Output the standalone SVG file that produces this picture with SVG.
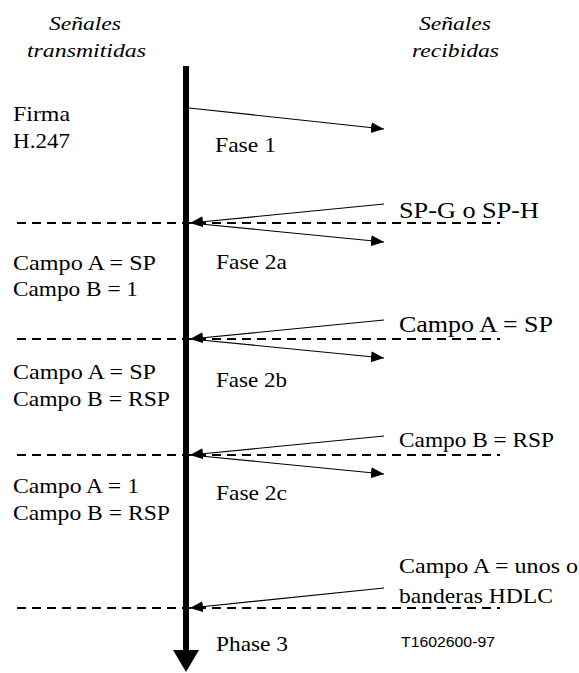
<svg xmlns="http://www.w3.org/2000/svg" width="579" height="673" viewBox="0 0 579 673">
<style>
  .t { font-size: 21px; fill: #000; }
  .hdr { font-style: italic; font-size: 19px; }
  .big { font-size: 23px; }
  .ref { font-size: 14px; }
  .sig { stroke: #000; stroke-width: 1.2; fill: none; marker-end: url(#ah); }
  .sep { stroke: #000; stroke-width: 2; stroke-dasharray: 9 6; fill: none; }
</style>
<defs>
  <marker id="ah" markerUnits="userSpaceOnUse" markerWidth="14" markerHeight="12" refX="13" refY="5.5" orient="auto">
    <path d="M0,0 L13,5.5 L0,11 Z" fill="#000"/>
  </marker>
</defs>
<rect width="579" height="673" fill="#fff"/>

<g id="timeline">
  <line x1="186" y1="66" x2="186" y2="652" stroke="#000" stroke-width="6"/>
  <polygon points="173,650 199,650 186,672" fill="#000"/>
</g>

<g id="separators">
  <line class="sep" x1="17" y1="223" x2="500" y2="223"/>
  <line class="sep" x1="17" y1="339" x2="500" y2="339"/>
  <line class="sep" x1="17" y1="455" x2="500" y2="455"/>
  <line class="sep" x1="17" y1="608" x2="500" y2="608"/>
</g>

<g id="connectors">
  <line class="sig" x1="189" y1="108" x2="384" y2="129"/>
  <line class="sig" x1="384" y1="204" x2="190" y2="223"/>
  <line class="sig" x1="190" y1="223" x2="384" y2="242"/>
  <line class="sig" x1="384" y1="320" x2="190" y2="339"/>
  <line class="sig" x1="190" y1="339" x2="384" y2="358"/>
  <line class="sig" x1="384" y1="436" x2="190" y2="455"/>
  <line class="sig" x1="190" y1="455" x2="384" y2="474"/>
  <line class="sig" x1="384" y1="588" x2="190" y2="608"/>
</g>

<g font-family="Liberation Serif, Times New Roman, DejaVu Serif, serif">
<g id="headers">
  <text class="t hdr" x="49" y="30" textLength="72" lengthAdjust="spacingAndGlyphs">Señales</text>
  <text class="t hdr" x="27" y="57" textLength="119" lengthAdjust="spacingAndGlyphs">transmitidas</text>
  <text class="t hdr" x="419" y="30" textLength="72" lengthAdjust="spacingAndGlyphs">Señales</text>
  <text class="t hdr" x="412" y="57" textLength="87" lengthAdjust="spacingAndGlyphs">recibidas</text>
</g>

<g id="phase1">
  <text class="t" x="13" y="121" textLength="57" lengthAdjust="spacingAndGlyphs">Firma</text>
  <text class="t" x="13" y="148" textLength="57" lengthAdjust="spacingAndGlyphs">H.247</text>
  <text class="t" x="215" y="152" textLength="61" lengthAdjust="spacingAndGlyphs">Fase 1</text>
  <text class="t big" x="399" y="218" textLength="140" lengthAdjust="spacingAndGlyphs">SP-G o SP-H</text>
</g>

<g id="phase2a">
  <text class="t" x="13" y="270" textLength="143" lengthAdjust="spacingAndGlyphs">Campo A = SP</text>
  <text class="t" x="13" y="296" textLength="125" lengthAdjust="spacingAndGlyphs">Campo B = 1</text>
  <text class="t" x="216" y="269" textLength="71" lengthAdjust="spacingAndGlyphs">Fase 2a</text>
  <text class="t big" x="399" y="332" textLength="154" lengthAdjust="spacingAndGlyphs">Campo A = SP</text>
</g>

<g id="phase2b">
  <text class="t" x="13" y="379" textLength="143" lengthAdjust="spacingAndGlyphs">Campo A = SP</text>
  <text class="t" x="13" y="406" textLength="157" lengthAdjust="spacingAndGlyphs">Campo B = RSP</text>
  <text class="t" x="216" y="387" textLength="71" lengthAdjust="spacingAndGlyphs">Fase 2b</text>
  <text class="t" x="399" y="447" textLength="155" lengthAdjust="spacingAndGlyphs">Campo B = RSP</text>
</g>

<g id="phase2c">
  <text class="t" x="13" y="493" textLength="126" lengthAdjust="spacingAndGlyphs">Campo A = 1</text>
  <text class="t" x="13" y="520" textLength="157" lengthAdjust="spacingAndGlyphs">Campo B = RSP</text>
  <text class="t" x="216" y="500" textLength="71" lengthAdjust="spacingAndGlyphs">Fase 2c</text>
  <text class="t" x="399" y="573" textLength="179" lengthAdjust="spacingAndGlyphs">Campo A = unos o</text>
  <text class="t" x="399" y="603" textLength="154" lengthAdjust="spacingAndGlyphs">banderas HDLC</text>
</g>

<g id="phase3">
  <text class="t" x="216" y="651" textLength="72" lengthAdjust="spacingAndGlyphs">Phase 3</text>
  <text class="t ref" font-family="Liberation Sans, Arial, DejaVu Sans, sans-serif" x="401" y="647" textLength="94" lengthAdjust="spacingAndGlyphs">T1602600-97</text>
</g>
</g>
</svg>
